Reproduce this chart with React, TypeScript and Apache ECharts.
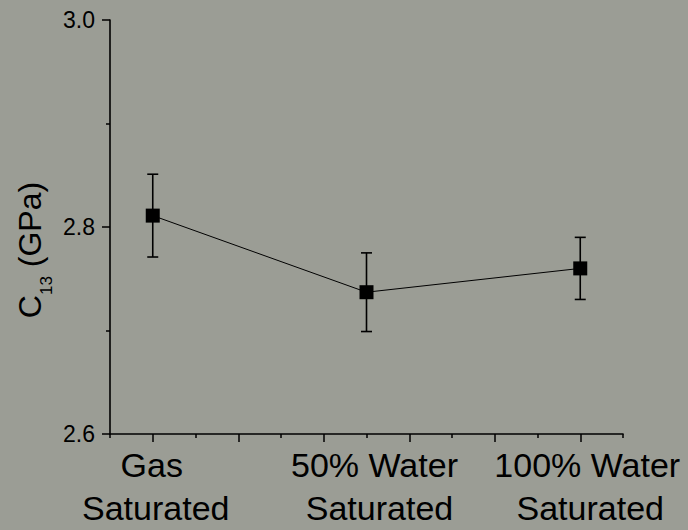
import React, { useEffect, useRef } from "react";
import * as echarts from "echarts";

const categories: string[] = ["Gas\nSaturated", "50% Water\nSaturated", "100% Water\nSaturated"];
const xPositions: number[] = [1, 6, 11];
const means: number[] = [2.811, 2.737, 2.76];
const errors: number[] = [0.04, 0.038, 0.03];
const yTicks: number[] = [2.6, 2.8, 3.0];

const FONT = "'Liberation Sans', Arial, Helvetica, sans-serif";
// horizontal nudges (px) of each label line, [line1, line2]
const LABEL_SHIFT: number[][] = [
  [-1, 3],
  [8, 13],
  [7, 10],
];

function shiftStyle(s: number) {
  const base = { fontFamily: FONT, fontSize: 34, lineHeight: 43, color: "#000" };
  return s >= 0 ? { ...base, padding: [0, 0, 0, 2 * s] } : { ...base, padding: [0, -2 * s, 0, 0] };
}

const rich: Record<string, any> = {};
LABEL_SHIFT.forEach((pair, i) => {
  rich[`c${i}l0`] = shiftStyle(pair[0]);
  rich[`c${i}l1`] = shiftStyle(pair[1]);
});

export default function App() {
  const ref = useRef<HTMLDivElement>(null);

  useEffect(() => {
    if (!ref.current) return;
    const chart = echarts.init(ref.current, undefined, { renderer: "svg" });

    const errData = xPositions.map((x, i) => [x, means[i] - errors[i], means[i] + errors[i]]);
    const lineData = xPositions.map((x, i) => [x, means[i]]);

    const option: any = {
      animation: false,
      backgroundColor: "#9b9d95",
      grid: { left: 110, right: 65, top: 20, bottom: 96, containLabel: false },
      xAxis: [
        {
          type: "value",
          min: 0,
          max: 12,
          interval: 1,
          position: "bottom",
          axisLine: { show: true, lineStyle: { color: "#000", width: 1.6 } },
          axisTick: { show: false },
          splitLine: { show: false },
          axisLabel: {
            show: true,
            margin: 9,
            fontFamily: FONT,
            fontSize: 34,
            lineHeight: 43,
            color: "#000",
            rich,
            formatter: (v: number) => {
              const i = xPositions.indexOf(Math.round(v));
              if (i < 0 || Math.abs(v - xPositions[i]) > 1e-6) return "";
              return categories[i]
                .split("\n")
                .map((line, j) => `{c${i}l${j}|${line}}`)
                .join("\n");
            },
          },
        },
        {
          type: "value",
          min: 0,
          max: 12,
          interval: 2,
          position: "bottom",
          axisLine: { show: false },
          axisTick: { show: true, length: 4, lineStyle: { color: "#000", width: 1.5 } },
          minorTick: { show: true, splitNumber: 2, length: 8, lineStyle: { color: "#000", width: 1.5 } },
          splitLine: { show: false },
          minorSplitLine: { show: false },
          axisLabel: { show: false },
        },
      ],
      yAxis: {
        type: "value",
        min: 2.6,
        max: 3.0,
        interval: 0.2,
        axisLine: { show: true, lineStyle: { color: "#000", width: 1.6 } },
        axisTick: { show: true, length: 8, lineStyle: { color: "#000", width: 1.5 } },
        minorTick: { show: true, splitNumber: 2, length: 4, lineStyle: { color: "#000", width: 1.5 } },
        splitLine: { show: false },
        minorSplitLine: { show: false },
        axisLabel: {
          margin: 15,
          fontFamily: FONT,
          fontSize: 23,
          color: "#000",
          formatter: (v: number) => {
            const t = yTicks.find((y) => Math.abs(y - v) < 1e-6);
            return t !== undefined ? t.toFixed(1) : "";
          },
        },
      },
      graphic: [
        {
          type: "text",
          x: 30,
          y: 250,
          rotation: Math.PI / 2,
          style: {
            text: "{a|C}{sub|13}{a| (GPa)}",
            align: "center",
            verticalAlign: "middle",
            fill: "#000",
            rich: {
              a: { fontFamily: FONT, fontSize: 32, lineHeight: 50, fill: "#000", color: "#000" },
              sub: { fontFamily: FONT, fontSize: 17, lineHeight: 17, verticalAlign: "bottom", fill: "#000", color: "#000" },
            },
          },
        },
      ],
      series: [
        {
          type: "custom",
          xAxisIndex: 0,
          clip: false,
          z: 2,
          data: errData,
          renderItem: (params: any, api: any) => {
            const x = api.value(0);
            const lo = api.coord([x, api.value(1)]);
            const hi = api.coord([x, api.value(2)]);
            const cap = 5.5;
            const style = { stroke: "#000", lineWidth: 1.6 };
            return {
              type: "group",
              children: [
                { type: "line", shape: { x1: lo[0], y1: lo[1], x2: hi[0], y2: hi[1] }, style },
                { type: "line", shape: { x1: lo[0] - cap, y1: lo[1], x2: lo[0] + cap, y2: lo[1] }, style },
                { type: "line", shape: { x1: hi[0] - cap, y1: hi[1], x2: hi[0] + cap, y2: hi[1] }, style },
              ],
            };
          },
        },
        {
          type: "line",
          xAxisIndex: 0,
          z: 3,
          data: lineData,
          symbol: "rect",
          symbolSize: 14,
          itemStyle: { color: "#000" },
          lineStyle: { color: "#000", width: 1 },
        },
      ],
    };

    chart.setOption(option);
    return () => chart.dispose();
  }, []);

  return (
    <div
      ref={ref}
      style={{ position: "fixed", left: 0, top: 0, width: 688, height: 530 }}
    />
  );
}
